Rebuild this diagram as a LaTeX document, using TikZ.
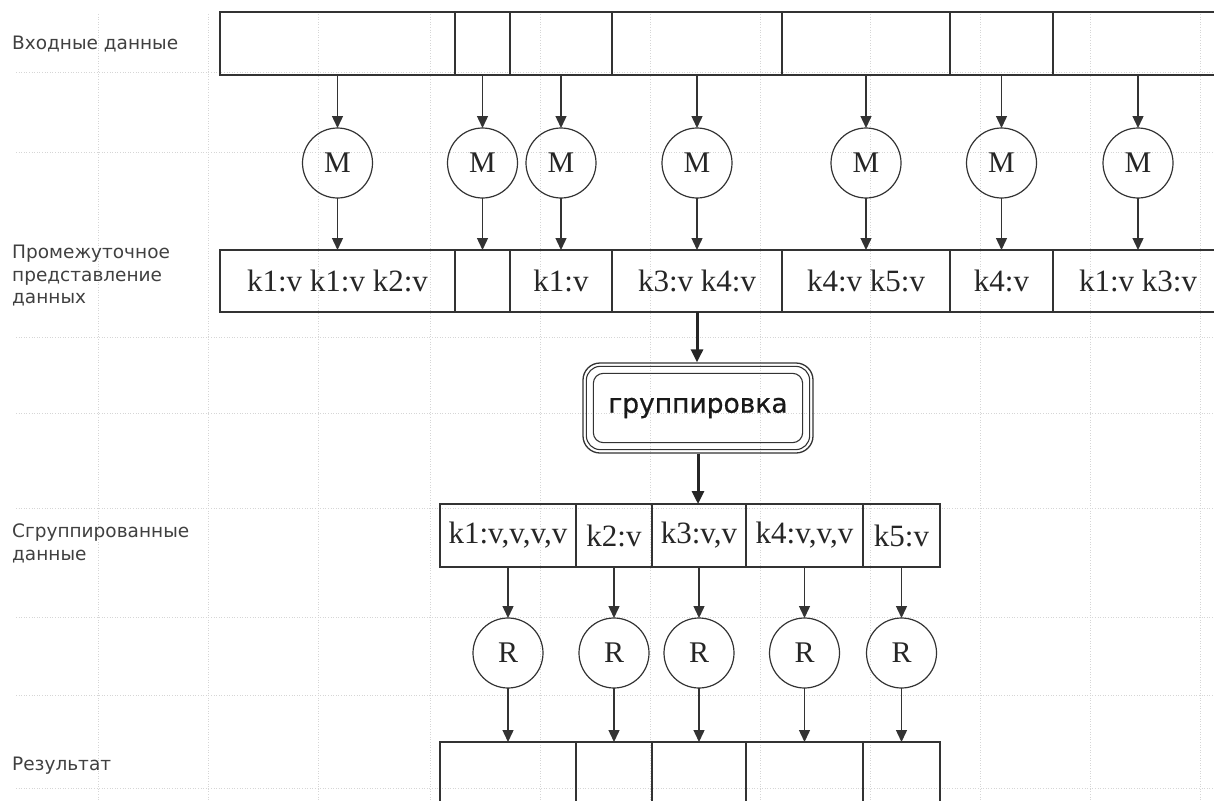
\documentclass[tikz,border=0pt]{standalone}
\usepackage{fontspec}
\setmainfont{Liberation Serif}
\newfontfamily\labelfont{DejaVu Sans}
\newfontfamily\stagefont[FakeBold=0.6]{DejaVu Sans}
\usetikzlibrary{arrows.meta}
\definecolor{ink}{HTML}{333333}
\definecolor{lbltext}{HTML}{404040}
\definecolor{gridc}{HTML}{D6D6D6}

\begin{document}
\begin{tikzpicture}[x=1pt,y=-1pt,
  cell/.style={draw=ink, line width=1.4pt, rectangle, inner sep=0pt, outer sep=0pt,
    font=\fontsize{31}{32}\selectfont, text=black!85},
  worker/.style={draw=ink, line width=1.2pt, circle, minimum size=70pt, inner sep=0pt,
    outer sep=0pt, font=\fontsize{30}{31}\selectfont, text=black!85},
  flow/.style={draw=ink, line width=1.4pt, -{Triangle[length=12pt,width=11pt]}},
  bigflow/.style={draw=black!85, line width=3pt, -{Triangle[length=13pt,width=12pt]}},
  lbl/.style={font=\labelfont\fontsize{18.5}{22}\selectfont, text=lbltext, anchor=base west, inner sep=0pt},
  gridline/.style={draw=gridc, line width=0.6pt, dotted},
  frame/.style={draw=ink, line width=1.3pt, rounded corners=#1},
]
\useasboundingbox (0,0) rectangle (1214,800);
\clip (0,0) rectangle (1214,800);

% background dotted grid
\foreach \gx in {98,208,318,430,540,650,760,870,980,1090,1200}
  \draw[gridline] (\gx,14) -- (\gx,800);
\foreach \gy in {72,152,337,413,508,617,695,788}
  \draw[gridline] (16,\gy) -- (1214,\gy);

% row labels
\node[lbl] (lin) at (12,50) {Входные данные};
\node[lbl] (lmid1) at (12,258) {Промежуточное};
\node[lbl] (lmid2) at (12,281) {представление};
\node[lbl] (lmid3) at (12,303) {данных};
\node[lbl] (lgrp1) at (12,537) {Сгруппированные};
\node[lbl] (lgrp2) at (12,560) {данные};
\node[lbl] (lres) at (12,770) {Результат};

% input splits
\node[cell, minimum width=235pt, minimum height=63pt] (i1) at (337.5,43.5) {};
\node[cell, minimum width=55pt,  minimum height=63pt] (i2) at (482.5,43.5) {};
\node[cell, minimum width=102pt, minimum height=63pt] (i3) at (561,43.5) {};
\node[cell, minimum width=170pt, minimum height=63pt] (i4) at (697,43.5) {};
\node[cell, minimum width=168pt, minimum height=63pt] (i5) at (866,43.5) {};
\node[cell, minimum width=103pt, minimum height=63pt] (i6) at (1001.5,43.5) {};
\node[cell, minimum width=170pt, minimum height=63pt] (i7) at (1138,43.5) {};

% intermediate key/value pairs
\node[cell, minimum width=235pt, minimum height=62pt] (p1) at (337.5,281) {k1:v k1:v k2:v};
\node[cell, minimum width=55pt,  minimum height=62pt] (p2) at (482.5,281) {};
\node[cell, minimum width=102pt, minimum height=62pt] (p3) at (561,281) {k1:v};
\node[cell, minimum width=170pt, minimum height=62pt] (p4) at (697,281) {k3:v k4:v};
\node[cell, minimum width=168pt, minimum height=62pt] (p5) at (866,281) {k4:v k5:v};
\node[cell, minimum width=103pt, minimum height=62pt] (p6) at (1001.5,281) {k4:v};
\node[cell, minimum width=170pt, minimum height=62pt] (p7) at (1138,281) {k1:v k3:v};

% map workers
\foreach \k/\cx in {1/337.5,2/482.5,3/561,4/697,5/866,6/1001.5,7/1138} {
  \node[worker] (m\k) at (\cx,163) {M};
  \draw[flow] (i\k.south) -- (m\k.north);
  \draw[flow] (m\k.south) -- (p\k.north);
}

% shuffle stage with a triple rounded frame
\node[frame=17pt, minimum width=230pt, minimum height=90pt, inner sep=0pt,
      font=\stagefont\fontsize{26.5}{28}\selectfont, text=black!90] (grp) at (698,408) {группировка};
\draw[frame=14pt, line width=1.1pt] ([shift={(4pt,-4pt)}]grp.north west) rectangle ([shift={(-4pt,4pt)}]grp.south east);
\draw[frame=10pt, line width=1.1pt] ([shift={(11pt,-11pt)}]grp.north west) rectangle ([shift={(-11pt,11pt)}]grp.south east);

% grouped keys
\node[cell, minimum width=136pt, minimum height=63pt] (g1) at (508,535.5) {k1:v,v,v,v};
\node[cell, minimum width=76pt,  minimum height=63pt] (g2) at (614,535.5) {k2:v};
\node[cell, minimum width=94pt,  minimum height=63pt] (g3) at (699,535.5) {k3:v,v};
\node[cell, minimum width=117pt, minimum height=63pt] (g4) at (804.5,535.5) {k4:v,v,v};
\node[cell, minimum width=77pt,  minimum height=63pt] (g5) at (901.5,535.5) {k5:v};

\draw[bigflow] (p4.south) -- (p4.south |- grp.north);
\draw[bigflow] (grp.south) -- (grp.south |- g3.north);

% results
\node[cell, minimum width=136pt, minimum height=73pt] (o1) at (508,778.5) {};
\node[cell, minimum width=76pt,  minimum height=73pt] (o2) at (614,778.5) {};
\node[cell, minimum width=94pt,  minimum height=73pt] (o3) at (699,778.5) {};
\node[cell, minimum width=117pt, minimum height=73pt] (o4) at (804.5,778.5) {};
\node[cell, minimum width=77pt,  minimum height=73pt] (o5) at (901.5,778.5) {};

% reduce workers
\foreach \k/\cx in {1/508,2/614,3/699,4/804.5,5/901.5} {
  \node[worker] (r\k) at (\cx,653) {R};
  \draw[flow] (g\k.south) -- (r\k.north);
  \draw[flow] (r\k.south) -- (o\k.north);
}
\end{tikzpicture}
\end{document}
